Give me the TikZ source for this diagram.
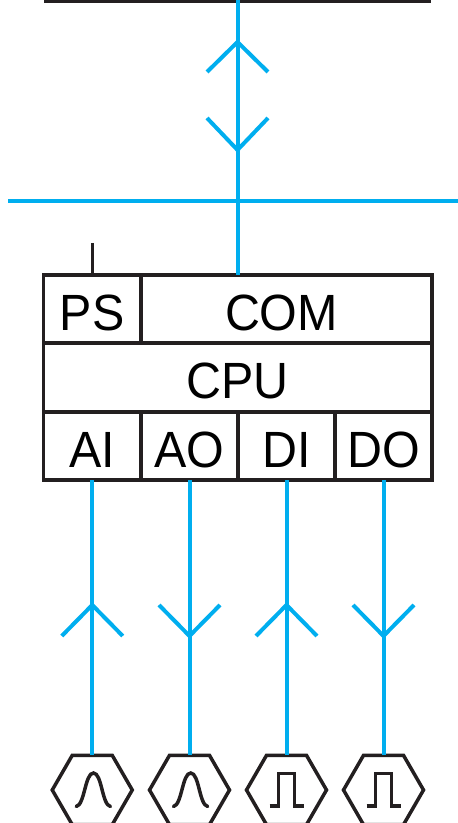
\documentclass[tikz,border=0pt]{standalone}
\usepackage{fontspec}
\setmainfont[FakeStretch=0.95]{Liberation Sans}
\usetikzlibrary{shapes.geometric}
\definecolor{wireblue}{HTML}{00AEEF}
\definecolor{framedark}{HTML}{231F20}
\tikzset{
  cell/.style={draw=framedark,line width=.075cm,inner sep=0,outer sep=0,minimum height=1.37cm,
    text height=.86cm,text depth=0cm,font=\fontsize{29}{29}\selectfont},
  hexa/.style={draw=framedark,line width=.07cm,regular polygon,regular polygon sides=6,
    minimum size=1.6cm,inner sep=0,outer sep=0},
  wire/.style={draw=wireblue,line width=.08cm},
  darkline/.style={draw=framedark,line width=.07cm},
  pulse/.style={draw=framedark,line width=.07cm,line cap=round,line join=miter}
}
\begin{document}
\begin{tikzpicture}
    \useasboundingbox (0,0) rectangle (9.16,16.46);
    % top bus and network
    \coordinate (barw) at (.88,16.44);
    \coordinate (bare) at (8.62,16.44);
    \coordinate (netw) at (.16,12.44);
    \coordinate (nete) at (9.16,12.44);
    \coordinate (uplink) at (4.75,16.46);
    \coordinate (pwr) at (1.845,11.6);
    \draw [darkline] (barw)--(bare);
    \draw [wire] (netw)--(nete);
    % hexagons
    \node [hexa] (hexai) at (1.845,.66) {};
    \node [hexa] (hexao) at (3.79,.66) {};
    \node [hexa] (hexdi) at (5.73,.66) {};
    \node [hexa] (hexdo) at (7.67,.66) {};
    % controller rows
    \node [cell,minimum width=1.95cm] (ps) at (1.845,10.28) {PS};
    \node [cell,minimum width=5.82cm] (com) at (5.73,10.28) {COM\kern.2cm};
    \node [cell,minimum width=7.77cm] (cpu) at (4.755,8.91) {CPU};
    \node [cell,minimum width=1.95cm] (ai) at (1.845,7.54) {AI};
    \node [cell,minimum width=1.94cm] (ao) at (3.79,7.54) {AO};
    \node [cell,minimum width=1.94cm] (di) at (5.73,7.54) {DI};
    \node [cell,minimum width=1.94cm] (do) at (7.67,7.54) {DO};
    % connectors
    \draw [wire] (uplink)--(uplink |- com.north);
    \draw [darkline] (pwr)--(ps.north);
    \draw [wire] (ai.south)--(hexai.north);
    \draw [wire] (ao.south)--(hexao.north);
    \draw [wire] (di.south)--(hexdi.north);
    \draw [wire] (do.south)--(hexdo.north);
    % chevrons
    \draw [wire] (4.14,15.02)--(4.75,15.62)--(5.36,15.02);
    \draw [wire] (4.14,14.10)--(4.75,13.46)--(5.36,14.10);
    \draw [wire] (1.235,3.74)--(1.845,4.36)--(2.455,3.74);
    \draw [wire] (3.18,4.36)--(3.79,3.74)--(4.40,4.36);
    \draw [wire] (5.12,3.74)--(5.73,4.36)--(6.34,3.74);
    \draw [wire] (7.06,4.36)--(7.67,3.74)--(8.28,4.36);
    % pulses
    \draw [pulse] ([shift={(-.32,-.33)}]hexai.center) .. controls ++(.17,.03) and ++(-.17,0) .. ([shift={(.024,.34)}]hexai.center) .. controls ++(.17,0) and ++(-.17,.03) .. ([shift={(.364,-.33)}]hexai.center);
    \draw [pulse] ([shift={(-.32,-.33)}]hexao.center) .. controls ++(.17,.03) and ++(-.17,0) .. ([shift={(.024,.34)}]hexao.center) .. controls ++(.17,0) and ++(-.17,.03) .. ([shift={(.364,-.33)}]hexao.center);
    \draw [pulse,line cap=butt] ([shift={(-.34,-.32)}]hexdi.center)--++(.18,0)--++(0,.65)--++(.32,0)--++(0,-.65)--++(.18,0);
    \draw [pulse,line cap=butt] ([shift={(-.34,-.32)}]hexdo.center)--++(.18,0)--++(0,.65)--++(.32,0)--++(0,-.65)--++(.18,0);
\end{tikzpicture}
\end{document}
